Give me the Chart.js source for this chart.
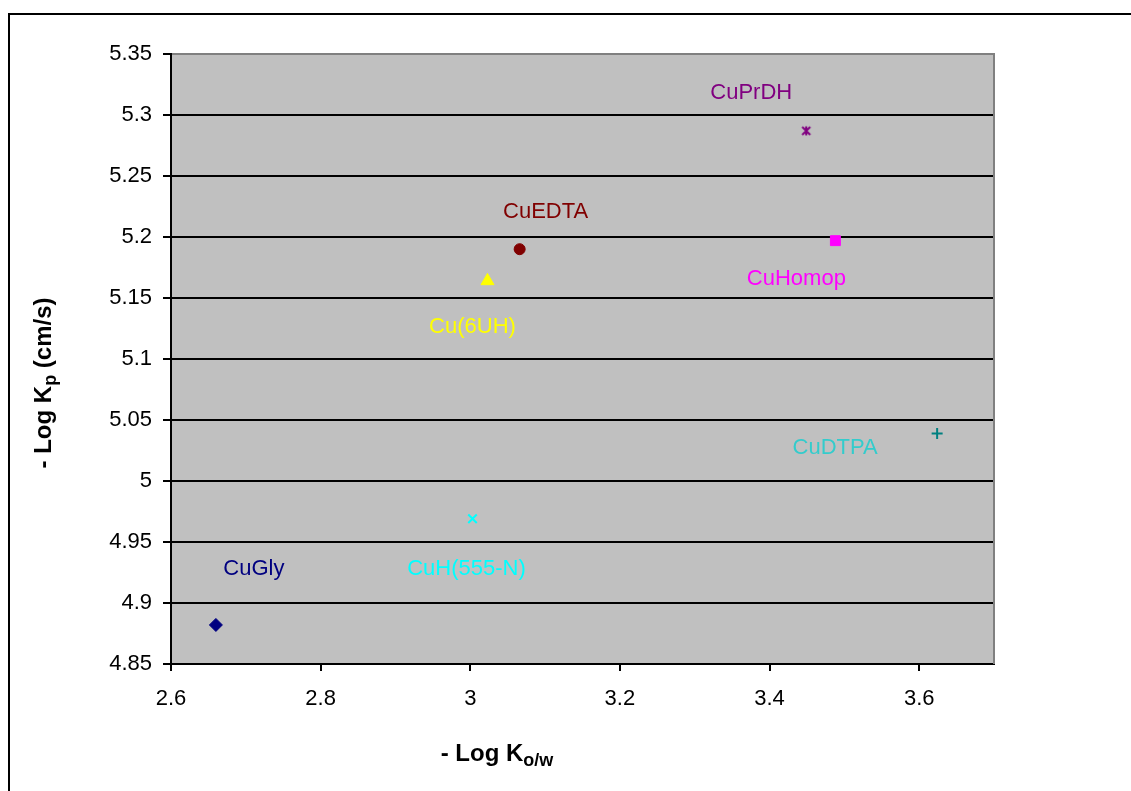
<!DOCTYPE html>
<html>
<head>
<meta charset="utf-8">
<script src="https://cdn.jsdelivr.net/npm/chart.js@4/dist/chart.umd.min.js"></script>
<style>
  html, body { margin: 0; padding: 0; background: #ffffff; overflow: hidden; }
  #wrap { width: 1131px; height: 791px; position: relative; }
</style>
</head>
<body>
<div id="wrap"><canvas id="c" width="1131" height="791"></canvas></div>
<script>
// Copper complexes: partition coefficient vs. permeability
const compounds = ['CuGly', 'CuH(555-N)', 'Cu(6UH)', 'CuEDTA', 'CuPrDH', 'CuHomop', 'CuDTPA'];
const logKow    = [2.660, 3.003, 3.023, 3.066, 3.449, 3.488, 3.624];
const logKp     = [4.882, 4.969, 5.164, 5.190, 5.287, 5.197, 5.039];
const xTicks    = [2.6, 2.8, 3.0, 3.2, 3.4, 3.6];
const yTicks    = [4.85, 4.9, 4.95, 5.0, 5.05, 5.1, 5.15, 5.2, 5.25, 5.3, 5.35];

// Asterisk marker (x with a vertical bar)
function asteriskMarker(color) {
  const cv = document.createElement('canvas');
  cv.width = 12; cv.height = 12;
  const g = cv.getContext('2d');
  g.strokeStyle = color; g.lineWidth = 2;
  g.beginPath();
  g.moveTo(2, 2); g.lineTo(10, 10);
  g.moveTo(10, 2); g.lineTo(2, 10);
  g.moveTo(6, 1.5); g.lineTo(6, 10.5);
  g.stroke();
  return cv;
}

// Marker and label styling per series
const seriesStyle = [
  { marker: 'rectRot',  radius: 6.5, fill: '#000080', line: '#000080', bw: 1, text: '#000080', dx: 38,   dy: -56 },
  { marker: 'crossRot', radius: 6,   fill: '#00FFFF', line: '#00FFFF', bw: 2, text: '#00FFFF', dx: -6,   dy: 50 },
  { marker: 'triangle', radius: 7.5, fill: '#FFFF00', line: '#FFFF00', bw: 1, text: '#FFFF00', dx: -15,  dy: 46 },
  { marker: 'circle',   radius: 5.5, fill: '#800000', line: '#800000', bw: 1, text: '#800000', dx: 26,   dy: -37 },
  { marker: asteriskMarker('#800080'), radius: 6, fill: '#800080', line: '#800080', bw: 2, text: '#800080', dx: -55, dy: -38 },
  { marker: 'rect',     radius: 7,   fill: '#FF00FF', line: '#FF00FF', bw: 1, text: '#FF00FF', dx: -39,  dy: 38 },
  { marker: 'cross',    radius: 5.5, fill: '#008080', line: '#008080', bw: 2, text: '#33CCCC', dx: -102, dy: 15 }
];

const datasets = compounds.map((name, i) => ({
  label: name,
  data: [{ x: logKow[i], y: logKp[i] }],
  pointStyle: seriesStyle[i].marker,
  pointRadius: seriesStyle[i].radius,
  backgroundColor: seriesStyle[i].fill,
  borderColor: seriesStyle[i].line,
  pointBorderWidth: seriesStyle[i].bw,
  showLine: false
}));

const FONT = '"Liberation Sans", Arial, sans-serif';

// Grey plot background, grey right edge
const plotFrame = {
  id: 'plotFrame',
  beforeDraw(chart) {
    const { ctx, chartArea: a } = chart;
    ctx.save();
    ctx.fillStyle = '#C0C0C0';
    ctx.fillRect(a.left, a.top, a.right - a.left, a.bottom - a.top);
    ctx.restore();
  },
  beforeDatasetsDraw(chart) {
    const { ctx, chartArea: a } = chart;
    ctx.save();
    ctx.strokeStyle = '#808080';
    ctx.lineWidth = 2;
    ctx.beginPath();
    ctx.moveTo(a.right, a.top - 1);
    ctx.lineTo(a.right, a.bottom);
    ctx.stroke();
    ctx.restore();
  }
};

// Compound names beside each marker
const pointNames = {
  id: 'pointNames',
  afterDatasetsDraw(chart) {
    const { ctx } = chart;
    const xs = chart.scales.x, ys = chart.scales.y;
    ctx.save();
    ctx.font = '22px ' + FONT;
    ctx.textAlign = 'center';
    ctx.textBaseline = 'middle';
    compounds.forEach((name, i) => {
      const st = seriesStyle[i];
      ctx.fillStyle = st.text;
      ctx.fillText(name, xs.getPixelForValue(logKow[i]) + st.dx, ys.getPixelForValue(logKp[i]) + st.dy);
    });
    ctx.restore();
  }
};

// Axis titles with subscripts, plus the outer frame
function drawSubTitle(ctx, main, sub, rest, cx, cy, rotate) {
  const mainFont = 'bold 24px ' + FONT;
  const subFont = 'bold 18px ' + FONT;
  ctx.save();
  ctx.font = mainFont; const w1 = ctx.measureText(main).width;
  const w3 = rest ? ctx.measureText(rest).width : 0;
  ctx.font = subFont; const w2 = ctx.measureText(sub).width;
  const total = w1 + w2 + w3;
  ctx.translate(cx, cy);
  if (rotate) ctx.rotate(-Math.PI / 2);
  ctx.fillStyle = '#000000';
  ctx.textBaseline = 'alphabetic';
  ctx.textAlign = 'left';
  let x = -total / 2;
  ctx.font = mainFont; ctx.fillText(main, x, 0); x += w1;
  ctx.font = subFont; ctx.fillText(sub, x, 5); x += w2;
  if (rest) { ctx.font = mainFont; ctx.fillText(rest, x, 0); }
  ctx.restore();
}

const decorations = {
  id: 'decorations',
  afterDraw(chart) {
    const { ctx } = chart;
    drawSubTitle(ctx, '- Log K', 'p', ' (cm/s)', 51, 383, true);
    drawSubTitle(ctx, '- Log K', 'o/w', '', 497, 761, false);
    ctx.save();
    ctx.strokeStyle = '#000000';
    ctx.lineWidth = 2;
    ctx.strokeRect(9, 14, 1200, 900);
    ctx.restore();
  }
};

new Chart(document.getElementById('c'), {
  type: 'scatter',
  data: { datasets },
  plugins: [plotFrame, pointNames, decorations],
  options: {
    responsive: false,
    animation: false,
    events: [],
    layout: { padding: { left: 0, top: 54, right: 137, bottom: 0 } },
    plugins: { legend: { display: false }, tooltip: { enabled: false }, title: { display: false } },
    scales: {
      x: {
        type: 'linear',
        min: 2.6, max: 3.7,
        afterBuildTicks(scale) { scale.ticks = xTicks.map(v => ({ value: v })); },
        afterFit(scale) { scale.height = 127; },
        border: { display: true, color: '#000000', width: 2 },
        grid: { drawOnChartArea: false, drawTicks: true, tickLength: 7, tickColor: '#000000', lineWidth: 2 },
        ticks: {
          color: '#000000', padding: 15, maxRotation: 0, autoSkip: false,
          font: { family: FONT, size: 22 },
          callback: v => String(+Number(v).toFixed(2))
        }
      },
      y: {
        type: 'linear',
        min: 4.85, max: 5.35,
        afterBuildTicks(scale) { scale.ticks = yTicks.map(v => ({ value: v })); },
        afterFit(scale) { scale.width = 171; },
        border: { display: true, color: '#000000', width: 2 },
        grid: {
          drawOnChartArea: true, drawTicks: true, tickLength: 8, lineWidth: 2,
          tickColor: '#000000',
          color: c => (c.tick && Math.abs(c.tick.value - 5.35) < 1e-9) ? '#808080' : '#000000'
        },
        ticks: {
          color: '#000000', padding: 11, autoSkip: false,
          font: { family: FONT, size: 22 },
          callback: v => String(+Number(v).toFixed(2))
        }
      }
    }
  }
});
</script>
</body>
</html>
